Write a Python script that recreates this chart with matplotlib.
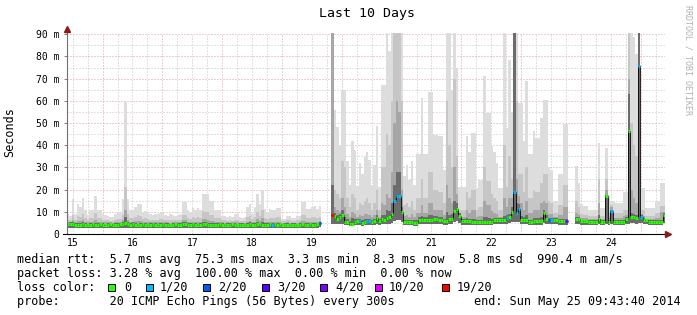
import numpy as np
import matplotlib
matplotlib.use('Agg')
import matplotlib.pyplot as plt
from matplotlib.patches import Rectangle
from datetime import datetime, timedelta

nan = float('nan')

START = datetime(2014, 5, 15, 9, 43, 40)
END = datetime(2014, 5, 25, 9, 43, 40)
TITLE = 'Last 10 Days'

# one value per hour (ms), nan = no data; smoke levels from outer to inner
rtt_top = [
    9.0, 8.0, 15.9, 9.0, 13.5, 12.0, 16.3, 10.7, 8.5, 10.7, 10.7, 17.3,
    10.7, 10.7, 9.2, 8.5, 8.3, 7.5, 7.8, 9.0, 9.9, 9.9, 15.8, 59.5,
    15.8, 10.7, 10.7, 12.0, 13.5, 13.5, 9.9, 10.5, 9.9, 9.2, 8.5, 9.2,
    9.0, 9.5, 9.5, 8.5, 8.0, 9.0, 8.5, 8.0, 8.7, 9.0, 14.4, 14.4,
    10.7, 10.0, 11.7, 11.0, 11.7, 11.0, 18.2, 17.9, 17.9, 14.7, 14.7, 11.0,
    10.9, 10.9, 8.3, 8.3, 7.8, 8.0, 7.5, 8.8, 8.8, 7.6, 7.2, 7.8,
    12.0, 13.7, 9.2, 12.0, 17.9, 13.5, 20.0, 11.4, 10.0, 11.4, 10.7, 11.0,
    11.8, 11.8, 6.9, 6.9, 8.3, 8.3, 7.2, 7.2, 8.3, 8.3, 14.4, 14.4,
    11.4, 11.4, 12.0, 12.5, 11.4, 12.5, nan, nan, nan, nan, 95, 56,
    48, 40, 65, 65, 33, 22, 41.7, 38, 21.5, 32, 27, 35,
    37, 33.5, 22, 31, 48.5, 21, 67, 67, 95, 82.6, 95, 95,
    95, 95, 95, 26, 31, 24.5, 32.7, 22, 36, 36, 61.3, 36,
    36, 64, 64, 44.7, 44.7, 44, 44, 29, 95, 95, 65, 95,
    75, 21, 21, 21, 44, 37, 45.5, 45.5, 20.7, 24.5, 24.5, 71,
    54.5, 54.5, 39.5, 36.8, 32, 20.7, 20.7, 95, 47.7, 78.5, 55, 95,
    95, 59, 59, 41.7, 69, 36, 36, 46.5, 43.3, 43.3, 52.5, 60.5,
    60.5, 30, 29, 15, 15, 27, 27, 49.6, 49.6, nan, nan, nan,
    30.5, 23, 13.3, 12.5, 12.5, 11, 11, 11, 11, 40.9, 11.7, 11.7,
    38.7, 17.7, 14.7, 14.7, 14, 14, 14, 19, 19, 95, 95, 89,
    81, 95, 20.8, 20.8, 11.7, 11.7, 11.7, 11.7, 14.7, 14.7, 23, 23,
]
rtt_q2 = [
    6.5, 6.2, 8.5, 6.5, 8.0, 7.5, 9.0, 7.0, 6.3, 7.2, 7.0, 9.5,
    7.0, 7.0, 6.5, 6.3, 6.2, 5.9, 6.0, 6.4, 6.8, 6.8, 8.5, 21.0,
    9.0, 7.0, 7.0, 7.5, 8.5, 8.0, 6.8, 7.0, 6.8, 6.5, 6.3, 6.5,
    6.4, 6.6, 6.6, 6.3, 6.1, 6.4, 6.3, 6.1, 6.3, 6.4, 8.5, 8.5,
    7.0, 6.8, 7.5, 7.2, 7.5, 7.2, 10.5, 10.0, 10.0, 8.5, 8.5, 7.2,
    7.2, 7.0, 6.2, 6.2, 6.0, 6.1, 5.9, 6.4, 6.4, 6.0, 5.8, 6.0,
    7.5, 8.0, 6.6, 7.5, 10.0, 8.0, 11.0, 7.3, 6.8, 7.3, 7.0, 7.2,
    7.5, 7.5, 5.7, 5.7, 6.2, 6.2, 5.9, 5.9, 6.2, 6.2, 8.5, 8.5,
    7.3, 7.3, 7.5, 7.8, 7.3, 7.8, nan, nan, nan, nan, 95, 20,
    18, 16, 33, 30, 16, 12, 18, 16, 11, 14, 13, 15,
    16, 14, 11, 14, 20, 11, 30, 30, 45, 40, 60, 95,
    95, 95, 60, 13, 14, 12, 15, 11, 16, 16, 25, 16,
    16, 28, 28, 20, 20, 19, 19, 14, 60, 40, 30, 70,
    35, 11, 11, 11, 19, 16, 20, 20, 11, 12, 12, 30,
    24, 24, 18, 16, 15, 11, 11, 40, 21, 35, 25, 95,
    60, 27, 27, 19, 30, 16, 16, 20, 19, 19, 23, 27,
    27, 15, 14, 9.5, 9.5, 13, 13, 22, 22, nan, nan, nan,
    15, 12, 9, 8.5, 8.5, 8, 8, 8, 8, 25, 8.2, 8.2,
    25, 10, 13, 9.5, 9.3, 9.3, 9.3, 11, 11, 95, 50, 40,
    35, 95, 11, 11, 8.2, 8.2, 8.2, 8.2, 9.5, 9.5, 12.5, 12.5,
]
rtt_q3 = [
    5.3, 5.3, 6.2, 5.4, 5.9, 5.7, 6.3, 5.5, 5.2, 5.5, 5.5, 6.5,
    5.5, 5.6, 5.3, 5.2, 5.3, 5.2, 5.1, 5.3, 5.4, 5.5, 6.2, 11.0,
    6.2, 5.5, 5.6, 5.7, 6.0, 5.9, 5.4, 5.4, 5.3, 5.3, 5.4, 5.2,
    5.2, 5.3, 5.4, 5.2, 5.2, 5.1, 5.2, 5.3, 5.3, 5.2, 6.2, 6.2,
    5.5, 5.3, 5.6, 5.5, 5.4, 5.5, 6.8, 6.6, 6.4, 6.0, 6.0, 5.5,
    5.5, 5.5, 5.2, 5.1, 5.2, 5.1, 5.2, 5.3, 5.2, 5.1, 5.1, 5.0,
    5.6, 5.9, 5.3, 5.6, 6.8, 5.9, 7.0, 5.5, 5.3, 5.5, 5.4, 5.5,
    5.5, 5.5, 5.0, 5.0, 5.2, 5.1, 5.0, 5.1, 5.1, 5.2, 6.0, 6.0,
    5.4, 5.5, 5.5, 5.5, 5.6, 6.0, nan, nan, nan, nan, 95, 12,
    11, 10, 16, 12, 9, 7.5, 10, 9, 7.5, 8.5, 8, 9,
    9, 8.5, 7.5, 8.5, 11, 7.5, 14, 13, 18, 16, 28, 50,
    60, 55, 20, 8, 8.5, 7.5, 9, 7.5, 9.5, 9.5, 13, 9.5,
    9.5, 14, 14, 11, 11, 11, 11, 8.5, 22, 16, 14, 30,
    18, 7.5, 7.5, 7.5, 11, 9.5, 11, 11, 7.5, 8, 8, 15,
    13, 13, 10.5, 9.5, 9, 7.5, 7.5, 16, 12, 16, 16, 95,
    25, 17, 14, 11, 15, 9.5, 9.5, 11, 11, 11, 14, 15,
    14, 9, 9, 7.5, 7.5, 8.5, 8.5, 12, 12, nan, nan, nan,
    9.5, 8.5, 7, 7, 7, 6.8, 6.8, 6.8, 6.8, 14, 6.8, 6.8,
    20, 7.5, 12, 7, 7, 7, 7, 8, 8.5, 70, 20, 16,
    14, 95, 9, 8, 6.8, 6.8, 6.8, 6.8, 7.2, 7.2, 10, 10,
]
rtt_q4 = [
    5.0, 5.3, 5.2, 4.8, 4.8, 4.9, 5.3, 4.9, 4.6, 4.8, 5.0, 4.9,
    4.9, 5.1, 4.8, 4.7, 4.9, 4.9, 4.7, 4.8, 4.9, 5.1, 5.3, 7.5,
    5.2, 4.8, 5.2, 4.9, 4.7, 4.9, 5.0, 4.8, 4.7, 4.9, 5.1, 4.8,
    4.7, 4.9, 5.0, 4.8, 4.9, 4.7, 4.8, 5.0, 4.9, 4.8, 5.2, 5.3,
    4.9, 4.8, 5.0, 4.9, 4.7, 4.9, 5.4, 5.2, 5.0, 5.0, 4.8, 4.8,
    4.9, 5.0, 4.8, 4.7, 4.9, 4.8, 5.0, 4.9, 4.7, 4.8, 4.9, 4.7,
    4.9, 5.2, 4.9, 4.8, 5.5, 5.1, 5.3, 4.8, 4.8, 5.0, 4.9, 5.1,
    4.9, 5.0, 4.7, 4.8, 4.9, 4.7, 4.8, 4.9, 4.7, 4.8, 5.1, 5.0,
    4.8, 5.0, 4.9, 4.8, 5.1, 5.5, nan, nan, nan, nan, 22, 9.5,
    8.5, 9, 11, 7.5, 6.8, 6, 7, 6.8, 6.8, 6.8, 6.2, 6.6,
    6.8, 6.8, 6.4, 6.9, 8.5, 6.8, 8.5, 8.5, 11, 10.5, 14, 22,
    28, 28, 12, 6.5, 6.5, 6.3, 6.5, 6.1, 6.2, 7.5, 8, 7.5,
    7.5, 8.5, 8.5, 8, 8, 7.5, 7.5, 6.8, 10, 8.5, 9, 15,
    14, 9.5, 6.8, 6.8, 7.2, 6.9, 6.6, 6.6, 6.4, 6.5, 6.5, 7.5,
    7.5, 7.2, 6.7, 7.2, 7.2, 7.1, 7.1, 8, 8.5, 9, 12, 95,
    14, 13.5, 8, 7.5, 8.5, 6.5, 6.5, 7, 7, 7, 7.5, 11,
    8.5, 7, 7, 7, 7, 6.6, 6.6, 6.8, 6.8, nan, nan, nan,
    7.5, 7.5, 6.5, 6.5, 6.5, 6.2, 6.2, 6.2, 6.2, 8.5, 6.2, 6.2,
    17.5, 6.3, 10.8, 6.2, 6.2, 6.2, 6.2, 6.3, 7.8, 63, 9.5, 9,
    8.5, 95, 8.5, 7, 6.8, 6.2, 6.2, 6.2, 6.2, 6.3, 6.3, 9.5,
]
rtt_low = [
    2.8, 2.9, 2.7, 2.8, 2.8, 2.9, 2.8, 2.7, 2.8, 2.8, 2.9, 2.8,
    2.8, 2.7, 2.8, 2.9, 2.8, 2.8, 2.7, 2.8, 2.8, 2.9, 2.8, 2.8,
    2.9, 2.8, 2.8, 2.7, 2.8, 2.8, 2.9, 2.8, 2.8, 2.7, 2.8, 2.8,
    2.8, 2.8, 2.9, 2.8, 2.7, 2.8, 2.8, 2.8, 2.9, 2.8, 2.8, 2.7,
    2.8, 2.8, 2.8, 2.9, 2.8, 2.8, 2.7, 2.8, 2.8, 2.8, 2.9, 2.8,
    2.8, 2.7, 2.8, 2.8, 2.8, 2.9, 2.8, 2.8, 2.7, 2.8, 2.8, 2.8,
    2.9, 2.8, 2.8, 2.7, 2.8, 2.8, 2.8, 2.9, 2.8, 2.8, 2.7, 2.8,
    2.8, 2.8, 2.9, 2.8, 2.8, 2.7, 2.8, 2.8, 2.8, 2.9, 2.8, 2.8,
    2.8, 2.7, 2.8, 2.8, 2.9, 3.0, nan, nan, nan, nan, 4.6, 4.4,
    4.3, 4.3, 4.4, 3.9, 3.9, 3.6, 3.6, 3.9, 4.1, 4.1, 3.8, 3.9,
    4.1, 4.1, 3.9, 4.2, 4.6, 4.2, 4.4, 4.4, 4.6, 4.7, 5.0, 6.0,
    6.5, 6.5, 5.5, 3.9, 3.9, 3.9, 3.9, 3.8, 3.8, 4.4, 4.4, 4.4,
    4.4, 4.4, 4.4, 4.6, 4.6, 4.4, 4.4, 4.2, 4.2, 4.6, 4.6, 5.5,
    5.8, 4.9, 4.2, 4.2, 4.2, 4.2, 4.1, 4.1, 4.1, 4.1, 4.1, 4.1,
    4.1, 4.1, 4.1, 4.4, 4.4, 4.4, 4.4, 4.4, 4.7, 4.8, 5.2, 5.5,
    5.2, 5.5, 4.4, 4.4, 4.4, 4.1, 4.1, 4.2, 4.2, 4.2, 4.2, 5.0,
    4.6, 4.3, 4.3, 4.4, 4.4, 4.2, 4.2, 4.2, 4.2, nan, nan, nan,
    4.5, 4.5, 4.2, 4.2, 4.2, 4.1, 4.1, 4.1, 4.1, 4.6, 4.1, 4.1,
    4.3, 4.1, 4.4, 4.1, 4.1, 4.1, 4.1, 4.1, 4.6, 4.5, 4.8, 4.8,
    4.7, 5.0, 4.8, 4.3, 4.3, 4.1, 4.1, 4.1, 4.1, 4.1, 4.1, 4.9,
]
rtt_median = [
    4.3, 4.6, 4.4, 4.1, 4.0, 4.2, 4.5, 4.2, 3.9, 4.1, 4.3, 4.0,
    4.2, 4.4, 4.1, 4.0, 4.2, 4.3, 4.0, 4.1, 4.2, 4.4, 4.5, 4.8,
    4.3, 4.1, 4.5, 4.2, 4.0, 4.2, 4.3, 4.1, 4.0, 4.2, 4.4, 4.1,
    4.0, 4.2, 4.3, 4.1, 4.2, 4.0, 4.1, 4.3, 4.2, 4.1, 4.4, 4.5,
    4.2, 4.1, 4.3, 4.2, 4.0, 4.2, 4.4, 4.3, 4.1, 4.2, 4.0, 4.1,
    4.2, 4.3, 4.1, 4.0, 4.2, 4.1, 4.3, 4.2, 4.0, 4.1, 4.2, 4.0,
    4.1, 4.4, 4.2, 4.1, 4.5, 4.3, 4.2, 4.0, 4.1, 4.3, 4.2, 4.4,
    4.2, 4.3, 4.0, 4.1, 4.2, 4.0, 4.1, 4.2, 4.0, 4.1, 4.3, 4.2,
    4.1, 4.3, 4.2, 4.0, 4.4, 4.8, nan, nan, nan, nan, 8.7, 8.0,
    6.9, 7.5, 8.7, 5.4, 5.4, 4.7, 4.7, 5.4, 5.7, 5.7, 5.1, 5.4,
    5.7, 5.7, 5.4, 5.9, 7.2, 5.9, 6.6, 6.5, 7.2, 7.5, 8.8, 15.0,
    17.0, 17.0, 9.8, 5.4, 5.4, 5.4, 5.4, 5.1, 5.1, 6.5, 6.5, 6.5,
    6.4, 6.4, 6.4, 6.9, 6.9, 6.4, 6.4, 5.9, 5.9, 6.9, 6.9, 10.5,
    11.3, 8.0, 5.9, 5.9, 5.9, 5.9, 5.6, 5.6, 5.6, 5.6, 5.6, 5.6,
    5.6, 5.6, 5.6, 6.4, 6.4, 6.4, 6.4, 6.4, 7.1, 7.6, 9.8, 18.8,
    9.6, 11.3, 6.4, 6.4, 6.4, 5.6, 5.6, 5.9, 5.9, 5.9, 5.9, 9.3,
    6.9, 6.2, 6.2, 6.4, 6.4, 5.9, 5.9, 5.9, 5.9, nan, nan, nan,
    6.7, 6.7, 5.9, 5.9, 5.9, 5.6, 5.6, 5.6, 5.6, 6.9, 5.6, 5.6,
    17.0, 5.6, 10.5, 5.6, 5.6, 5.6, 5.6, 5.6, 6.9, 46.5, 7.5, 7.5,
    7.1, 75.5, 7.5, 6.2, 6.2, 5.6, 5.6, 5.6, 5.6, 5.6, 5.6, 8.7,
]
# lost pings out of 20 per hour
loss = [
    0, 0, 0, 0, 0, 0, 0, 0, 0, 0, 0, 0,
    0, 0, 0, 0, 0, 0, 0, 0, 0, 0, 0, 0,
    0, 0, 0, 0, 0, 0, 0, 0, 0, 0, 0, 0,
    0, 0, 0, 0, 0, 0, 0, 0, 0, 0, 0, 0,
    0, 0, 0, 0, 0, 0, 0, 0, 0, 0, 0, 0,
    0, 0, 0, 0, 0, 0, 0, 0, 0, 0, 0, 0,
    0, 0, 0, 0, 0, 0, 0, 0, 0, 0, 1, 0,
    0, 0, 0, 0, 0, 0, 0, 0, 0, 0, 0, 0,
    0, 0, 0, 0, 0, 2, 0, 0, 0, 0, 19, 0,
    0, 0, 0, 0, 0, 0, 0, 0, 0, 1, 0, 0,
    1, 1, 0, 0, 0, 0, 0, 0, 0, 0, 0, 1,
    1, 1, 0, 0, 0, 0, 0, 0, 0, 0, 0, 0,
    0, 0, 0, 0, 0, 0, 0, 0, 0, 0, 0, 0,
    0, 0, 0, 0, 0, 0, 0, 0, 0, 0, 0, 0,
    0, 0, 0, 0, 0, 0, 0, 0, 1, 0, 0, 1,
    1, 1, 0, 0, 0, 0, 0, 0, 0, 0, 0, 0,
    0, 2, 1, 0, 0, 0, 0, 0, 4, 0, 0, 0,
    0, 0, 0, 0, 0, 0, 0, 0, 0, 0, 0, 0,
    0, 0, 1, 0, 0, 0, 0, 0, 0, 0, 0, 0,
    0, 1, 1, 0, 0, 0, 0, 0, 0, 0, 0, 0,
]

loss_steps = [0, 1, 2, 3, 4, 10, 19]
loss_colors = ['#26ff00', '#00b8ff', '#0059ff', '#5e00ff', '#7e00ff', '#dd00ff', '#ff0000']
loss_labels = ['0', '1/20', '2/20', '3/20', '4/20', '10/20', '19/20']
smoke_colors = ['#dddddd', '#c6c6c6', '#a6a6a6', '#6c6c6c']

y_ticks = [0, 10, 20, 30, 40, 50, 60, 70, 80, 90]
y_labels = ['0', '10 m', '20 m', '30 m', '40 m', '50 m', '60 m', '70 m', '80 m', '90 m']
day_labels = ['15', '16', '17', '18', '19', '20', '21', '22', '23', '24']

stats_rtt = 'median rtt:  5.7 ms avg  75.3 ms max  3.3 ms min  8.3 ms now  5.8 ms sd  990.4 m am/s'
stats_loss = 'packet loss: 3.28 % avg  100.00 % max  0.00 % min  0.00 % now'
probe_text = 'probe:       20 ICMP Echo Pings (56 Bytes) every 300s'
end_text = 'end: Sun May 25 09:43:40 2014'

W, H = 697, 315
plt.rcParams['font.family'] = 'DejaVu Sans Mono'


def hours(t):
    return (t - START).total_seconds() / 3600.0


def fx(x):
    return x / W


def fy(y):
    return 1 - y / H


def loss_color(n):
    c = loss_colors[0]
    for step, col in zip(loss_steps, loss_colors):
        if n >= step: c = col
    return c


med = np.array(rtt_median, dtype=float)
low = np.array(rtt_low, dtype=float)
edges = np.arange(len(med) + 1, dtype=float)
span = hours(END)

fig = plt.figure(figsize=(W / 100, H / 100), dpi=100)
ax = fig.add_axes([fx(67), 81 / H, 598 / W, 200.8 / H])
ax.set_xlim(0, span)
ax.set_ylim(0, 90.5)
for s in ax.spines.values(): s.set_visible(False)

# grid
dots = (0, (1, 2))
six_h = []
t = datetime(2014, 5, 15, 12)
while t < END:
    six_h.append(hours(t))
    t += timedelta(hours=6)
midnights = [hours(datetime(2014, 5, d)) for d in range(16, 26)]
for x in six_h:
    if min(abs(x - m) for m in midnights) > 0.1:
        ax.axvline(x, color='#c4c4c4', lw=0.72, ls=dots, zorder=0)
for x in midnights:
    ax.axvline(x, color='#dca0a0', lw=0.72, ls=dots, zorder=0)
for y in range(5, 90, 10):
    ax.axhline(y, color='#c4c4c4', lw=0.72, ls=dots, zorder=0)
for y in y_ticks[1:]:
    ax.axhline(y, color='#dca0a0', lw=0.72, ls=dots, zorder=0)

# smoke
for vals, col in zip([rtt_top, rtt_q2, rtt_q3, rtt_q4], smoke_colors):
    ax.stairs(np.array(vals, dtype=float), edges, baseline=low, fill=True,
              color=col, lw=0, zorder=1)

# median
ax.stairs(med, edges, baseline=None, color='#000000', lw=0.6, zorder=2)
ax.hlines(med, edges[:-1], edges[1:], colors=[loss_color(n) for n in loss],
          lw=2.2, zorder=3)

# axes lines and arrows
arrow = '#8b1a1a'
ax.plot([0, 0], [0, 92.2], color='#707070', lw=0.8, clip_on=False, zorder=4)
ax.plot([-1.6, 241.0], [0, 0], color='#000000', lw=0.8, clip_on=False, zorder=4)
ax.plot([0], [92.6], marker='^', ms=4.2, color=arrow, clip_on=False, zorder=5)
ax.plot([241.4], [0], marker='>', ms=4.2, color=arrow, clip_on=False, zorder=5)

ax.set_yticks(y_ticks)
ax.set_yticklabels(y_labels)
ax.tick_params(axis='y', length=2.2, width=0.7, color='#a07070', pad=3.4, labelsize=7)
ax.set_xticks([hours(datetime(2014, 5, int(d), 12)) for d in day_labels])
ax.set_xticklabels(day_labels)
ax.tick_params(axis='x', length=0, pad=3.0, labelsize=7)

# texts
fig.text(fx(366.5), fy(13), TITLE, ha='center', va='center', fontsize=9.5)
fig.text(fx(10), fy(132), 'Seconds', rotation=90, ha='center', va='center', fontsize=8.5)
fig.text(fx(688), fy(60), 'RRDTOOL / TOBI OETIKER', rotation=270, ha='center',
         va='center', fontsize=6, color='#b0b0b0')

fig.text(fx(17), fy(263.5), stats_rtt, fontsize=8.5, va='baseline')
fig.text(fx(17), fy(277), stats_loss, fontsize=8.5, va='baseline')
fig.text(fx(17), fy(291), 'loss color:', fontsize=8.5, va='baseline')
fig.text(fx(17), fy(305), probe_text, fontsize=8.5, va='baseline')
fig.text(fx(681), fy(305), end_text, fontsize=8.5, va='baseline', ha='right')

box_x = [108, 145.7, 203, 261.7, 320, 375, 441.7]
label_x = [124, 160, 218, 276.7, 335, 388.5, 456.7]
for bx, lx, col, lab in zip(box_x, label_x, loss_colors, loss_labels):
    fig.patches.append(Rectangle((fx(bx), fy(291)), 7 / W, 7 / H, transform=fig.transFigure,
                                 facecolor=col, edgecolor='#000000', lw=0.7))
    fig.text(fx(lx), fy(291), lab, fontsize=8.5, va='baseline')

fig.savefig('out.png', dpi=100, facecolor='white')
